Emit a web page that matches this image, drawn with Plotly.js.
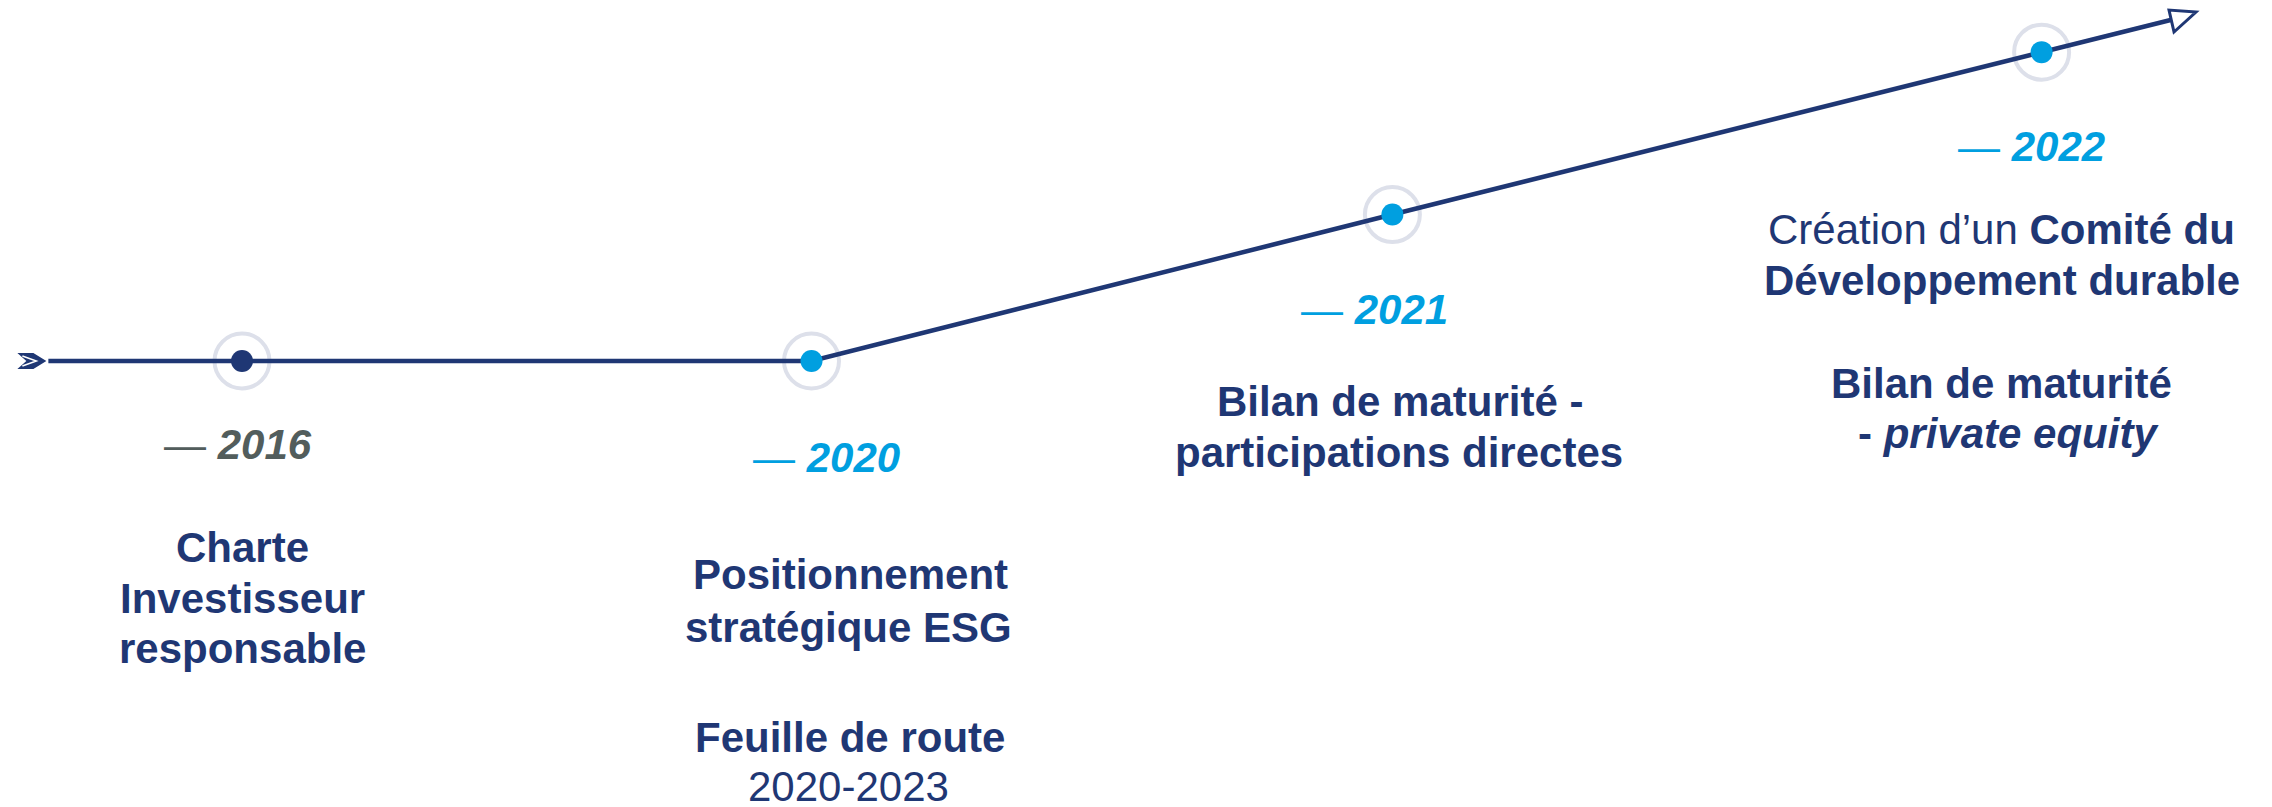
<!DOCTYPE html>
<html>
<head>
<meta charset="utf-8">
<script src="https://cdn.plot.ly/plotly-3.0.1.min.js"></script>
<style>
  html, body { margin: 0; padding: 0; background: #ffffff; }
  #chart { width: 2272px; height: 807px; }
</style>
</head>
<body>
<div id="chart"></div>
<script>
// ---- Data (milestones of the timeline) ----
const years = ['2016', '2020', '2021', '2022'];
const stage = [0, 1, 2.02, 3.16];          // position along the timeline
const level = [0, 0, 1.01, 2.13];          // progress level
const axisStartX = -0.34, axisStartY = 0;  // start of the timeline line
const axisEndX = 3.39, axisEndY = 2.355;   // end of the timeline line (arrow)

const desc2016 = ['<b>Charte</b>', '<b>Investisseur</b>', '<b>responsable</b>'];
const desc2020 = ['<b>Positionnement</b>', '<b>stratégique ESG</b>', '<b>Feuille de route</b>', '2020-2023'];
const desc2021 = ['<b>Bilan de maturité -</b>', '<b>participations directes</b>'];
const desc2022 = ['Création d’un <b>Comité du</b>', '<b>Développement durable</b>', '<b>Bilan de maturité</b>', '<b>- <i>private equity</i></b>'];
const descriptions = [desc2016, desc2020, desc2021, desc2022];

// ---- Styles / layout offsets ----
const NAVY = '#1f3774';
const BLUE = '#009fe0';
const GREY = '#525d5c';
const RING = '#dde0ea';
const FONT = 'Liberation Sans, Arial, Helvetica, sans-serif';
const dotColors = [NAVY, BLUE, BLUE, BLUE];
const yearColors = [GREY, BLUE, BLUE, BLUE];

// pixel offsets [dx, dy(down)] of each text line from its milestone
const yearOffsets = [[-4, 83.5], [15, 96.5], [-18, 95], [-10.6, 94.4]];
const lineOffsets = [
  [[0, 186.5], [0, 237.5], [0, 287.5]],
  [[39, 213.5], [37, 266.5], [38, 376.5], [37, 425.5]],
  [[8, 187], [7, 238]],
  [[-40.6, 177.4], [-39.6, 228.4], [-40.6, 331.4], [-33.6, 381.4]]
];

const lineX = [axisStartX].concat(stage, [axisEndX]);
const lineY = [axisStartY].concat(level, [axisEndY]);

const traces = [
  { // halo rings
    x: stage, y: level, type: 'scatter', mode: 'markers', hoverinfo: 'skip',
    marker: { symbol: 'circle-open', size: 55, color: RING, line: { width: 4, color: RING } }
  },
  { // timeline line
    x: lineX, y: lineY, type: 'scatter', mode: 'lines', hoverinfo: 'skip',
    line: { color: NAVY, width: 4.5 }
  },
  { // milestone dots
    x: stage, y: level, type: 'scatter', mode: 'markers', hoverinfo: 'skip',
    marker: { symbol: 'circle', size: 22, color: dotColors, line: { width: 0 } }
  }
];

const annotations = [];
years.forEach((yr, i) => {
  annotations.push({
    x: stage[i], y: level[i], xref: 'x', yref: 'y', showarrow: false,
    xanchor: 'center', yanchor: 'middle', borderpad: 0,
    xshift: yearOffsets[i][0], yshift: -yearOffsets[i][1],
    text: '— <b><i>' + yr + '</i></b>',
    font: { family: FONT, size: 42, color: yearColors[i] }
  });
  descriptions[i].forEach((t, j) => {
    annotations.push({
      x: stage[i], y: level[i], xref: 'x', yref: 'y', showarrow: false,
      xanchor: 'center', yanchor: 'middle', borderpad: 0,
      xshift: lineOffsets[i][j][0], yshift: -lineOffsets[i][j][1],
      text: t,
      font: { family: FONT, size: 42, color: NAVY }
    });
  });
});

const shapes = [
  { // start chevron
    type: 'path', xref: 'x', yref: 'y', xsizemode: 'pixel', ysizemode: 'pixel',
    xanchor: axisStartX, yanchor: axisStartY,
    path: 'M-31,8 L-15,8 L-2,0 L-15,-8 L-31,-8 L-22,0 Z',
    fillcolor: NAVY, line: { width: 0 }, layer: 'above'
  },
  {
    type: 'path', xref: 'x', yref: 'y', xsizemode: 'pixel', ysizemode: 'pixel',
    xanchor: axisStartX, yanchor: axisStartY,
    path: 'M-26,5 L-12,0 L-26,-5',
    line: { width: 1.5, color: '#ffffff' }, layer: 'above'
  },
  { // end arrowhead (open)
    type: 'path', xref: 'x', yref: 'y', xsizemode: 'pixel', ysizemode: 'pixel',
    xanchor: axisEndX, yanchor: axisEndY,
    path: 'M23.4,7.5 L-3.6,9.5 L1.4,-12.5 Z',
    fillcolor: '#ffffff', line: { width: 3, color: NAVY }, layer: 'above'
  }
];

const layout = {
  width: 2272, height: 807,
  margin: { l: 0, r: 0, t: 0, b: 0, pad: 0 },
  paper_bgcolor: '#ffffff', plot_bgcolor: '#ffffff',
  showlegend: false,
  xaxis: { range: [-0.42493, 3.56453], visible: false, fixedrange: true },
  yaxis: { range: [-3.07586, 2.48966], visible: false, fixedrange: true },
  annotations: annotations,
  shapes: shapes
};

Plotly.newPlot('chart', traces, layout, { staticPlot: true, displayModeBar: false });
</script>
</body>
</html>
